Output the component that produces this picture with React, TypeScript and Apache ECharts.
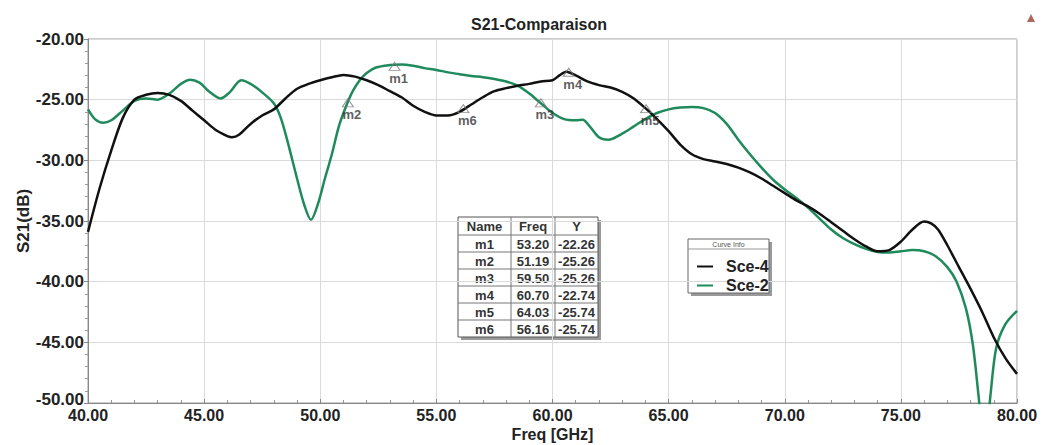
import React, { useEffect, useRef } from "react";
import * as echarts from "echarts";

const sce4Freq = [40.0, 40.5, 41.0, 41.5, 42.0, 42.5, 43.0, 43.5, 44.0, 44.5, 45.0, 45.5, 46.0, 46.2, 46.5, 47.0, 47.5, 48.0, 48.5, 49.0, 49.5, 50.0, 50.5, 51.0, 51.5, 52.0, 52.5, 53.0, 53.5, 54.0, 54.5, 55.0, 55.5, 56.0, 56.5, 57.0, 57.5, 58.0, 58.5, 59.0, 59.5, 60.0, 60.3, 60.6, 61.0, 61.5, 62.0, 62.5, 63.0, 63.5, 64.0, 64.5, 65.0, 65.5, 66.0, 66.5, 67.0, 67.5, 68.0, 68.5, 69.0, 69.5, 70.0, 70.5, 71.0, 71.5, 72.0, 72.5, 73.0, 73.5, 74.0, 74.5, 75.0, 75.5, 76.0, 76.3, 76.6, 77.0, 77.5, 78.0, 78.5, 79.0, 79.5, 80.0];
const sce4Db = [-35.9, -32.3, -29.2, -26.5, -25.0, -24.6, -24.45, -24.6, -25.1, -25.9, -26.7, -27.5, -28.0, -28.1, -27.9, -27.0, -26.3, -25.8, -24.9, -24.1, -23.7, -23.4, -23.15, -22.96, -23.1, -23.4, -23.8, -24.3, -24.8, -25.5, -26.0, -26.3, -26.3, -26.0, -25.4, -24.8, -24.3, -24.05, -23.85, -23.7, -23.5, -23.4, -23.0, -22.7, -23.0, -23.5, -23.8, -24.0, -24.35, -24.9, -25.7, -26.6, -27.6, -28.7, -29.5, -29.9, -30.1, -30.3, -30.6, -31.0, -31.5, -32.1, -32.7, -33.3, -33.8, -34.4, -35.1, -35.8, -36.5, -37.1, -37.5, -37.4, -36.7, -35.7, -35.05, -35.2, -35.7, -37.0, -38.8, -40.6, -42.5, -44.6, -46.3, -47.6];

const sce2Freq = [40.0, 40.3, 40.65, 41.0, 41.5, 42.0, 42.5, 43.0, 43.5, 44.0, 44.4, 44.8, 45.2, 45.7, 46.1, 46.6, 47.0, 47.5, 48.0, 48.3, 48.6, 49.0, 49.3, 49.6, 49.9, 50.2, 50.5, 50.8, 51.1, 51.4, 51.7, 52.0, 52.4, 53.0, 53.5, 54.0, 54.5, 55.0, 55.5, 56.0, 56.5, 57.0, 57.5, 58.0, 58.5, 59.0, 59.5, 60.0, 60.5, 61.0, 61.3, 61.6, 62.0, 62.4, 63.0, 63.5, 64.0, 64.5, 65.0, 65.5, 66.0, 66.5, 67.0, 67.5, 68.0, 68.5, 69.0, 69.5, 70.0, 70.5, 71.0, 71.5, 72.0, 72.5, 73.0, 73.5, 74.0, 74.5, 75.0, 75.5, 76.0, 76.5, 77.0, 77.4, 77.8, 78.1, 78.35, 78.55, 78.65, 78.85, 79.1, 79.5, 80.0];
const sce2Db = [-25.8, -26.6, -26.9, -26.7, -25.9, -25.1, -24.9, -25.0, -24.5, -23.7, -23.35, -23.6, -24.3, -24.9, -24.4, -23.4, -23.7, -24.4, -25.3, -26.5, -28.5, -31.5, -33.6, -34.9, -33.6, -31.5, -29.5, -27.2, -25.6, -24.3, -23.4, -22.8, -22.35, -22.15, -22.1, -22.2, -22.4, -22.55, -22.75, -22.9, -23.05, -23.15, -23.3, -23.5, -23.85, -24.5, -25.3, -26.1, -26.6, -26.7, -26.65, -27.2, -28.1, -28.3, -27.8, -27.2, -26.6, -26.1, -25.8, -25.65, -25.6, -25.7, -26.1, -27.0, -28.3, -29.5, -30.6, -31.6, -32.4, -33.1, -33.9, -34.8, -35.7, -36.4, -36.9, -37.3, -37.55, -37.6, -37.5, -37.4, -37.5, -37.9, -38.8, -40.0, -42.2, -45.2, -49.5, -53.0, -53.0, -49.5, -45.5, -43.5, -42.4];

const markerNames = ["m1", "m2", "m3", "m4", "m5", "m6"];
const markerFreq = [53.2, 51.19, 59.5, 60.7, 64.03, 56.16];
const markerDb = [-22.26, -25.26, -25.26, -22.74, -25.74, -25.74];

const seriesNames = ["Sce-4", "Sce-2"];
const seriesColors = ["#111111", "#1f8a5b"];
const tableHeader = ["Name", "Freq", "Y"];

const FONT = "'Liberation Sans', Arial, sans-serif";
const Y_MIN = -50;

function buildTable() {
  const left = 458, top = 217, right = 598;
  const colX = [458, 511, 555, 598];
  const headerH = 18, rowH = 17;
  const bottom = top + headerH + rowH * markerNames.length;
  const els: any[] = [];
  els.push({ type: "rect", shape: { x: left + 3, y: top + 3, width: right - left, height: bottom - top }, style: { fill: "#9a9a9a" }, silent: true });
  els.push({ type: "rect", shape: { x: left, y: top, width: right - left, height: bottom - top }, style: { fill: "#ffffff", stroke: "#555", lineWidth: 1 } });
  for (let i = 1; i < colX.length - 1; i++) {
    els.push({ type: "line", shape: { x1: colX[i], y1: top, x2: colX[i], y2: bottom }, style: { stroke: "#777", lineWidth: 1 } });
  }
  for (let r = 0; r < markerNames.length; r++) {
    const y = top + headerH + r * rowH;
    els.push({ type: "line", shape: { x1: left, y1: y, x2: right, y2: y }, style: { stroke: "#777", lineWidth: 1 } });
  }
  const cell = (txt: string, c: number, yc: number) => ({
    type: "text",
    style: { text: txt, x: (colX[c] + colX[c + 1]) / 2, y: yc, align: "center", verticalAlign: "middle", font: `bold 13px ${FONT}`, fill: "#333" },
  });
  tableHeader.forEach((h, c) => els.push(cell(h, c, top + headerH / 2 + 0.5)));
  markerNames.forEach((n, r) => {
    const yc = top + headerH + r * rowH + rowH / 2 + 0.5;
    els.push(cell(n, 0, yc));
    els.push(cell(markerFreq[r].toFixed(2), 1, yc));
    els.push(cell(markerDb[r].toFixed(2), 2, yc));
  });
  return els;
}

function buildLegendBox() {
  const x = 688, y = 239, w = 81, h = 54;
  return [
    { type: "rect", shape: { x: x + 3, y: y + 3, width: w, height: h }, style: { fill: "#9a9a9a" }, silent: true },
    { type: "rect", shape: { x, y, width: w, height: h }, style: { fill: "#ffffff", stroke: "#666", lineWidth: 1 } },
    { type: "line", shape: { x1: x, y1: y + 10, x2: x + w, y2: y + 10 }, style: { stroke: "#999", lineWidth: 1 } },
    { type: "text", style: { text: "Curve Info", x: x + w / 2, y: y + 5, align: "center", verticalAlign: "middle", font: `7px ${FONT}`, fill: "#555" } },
  ];
}

export default function App() {
  const ref = useRef<HTMLDivElement>(null);
  useEffect(() => {
    if (!ref.current) return;
    const chart = echarts.init(ref.current, undefined, { renderer: "svg" });
    const toPairs = (xs: number[], ys: number[]) => xs.map((x, i) => [x, ys[i]]);
    const axisLabelStyle = { fontFamily: FONT, fontWeight: "bold" as const, fontSize: 17, color: "#222" };
    const xLabelStyle = { ...axisLabelStyle, fontSize: 16 };
    chart.setOption({
      animation: false,
      backgroundColor: "#ffffff",
      title: {
        text: "S21-Comparaison",
        left: 466,
        top: 11,
        textStyle: { fontFamily: FONT, fontWeight: "bold", fontSize: 16, color: "#222" },
      },
      grid: { left: 88, right: 24, top: 39, bottom: 42, show: true, borderColor: "#999", borderWidth: 1, outerBoundsMode: "none", containLabel: false },
      legend: {
        data: seriesNames,
        orient: "vertical",
        left: 692,
        top: 253,
        itemWidth: 16,
        itemHeight: 2,
        itemGap: 2,
        icon: "rect",
        textStyle: { fontFamily: FONT, fontWeight: "bold", fontSize: 16, color: "#222", lineHeight: 17, padding: [0, 0, 0, 8] },
        z: 10,
      },
      xAxis: {
        type: "value",
        min: 40,
        max: 80,
        interval: 5,
        name: "Freq [GHz]",
        nameLocation: "middle",
        nameGap: 23,
        nameMoveOverlap: false,
        nameTextStyle: { ...xLabelStyle, lineHeight: 17 },
        axisLine: { lineStyle: { color: "#888" } },
        axisTick: { show: true, inside: true, length: 4, lineStyle: { color: "#888" } },
        minorTick: { show: true, splitNumber: 5, length: 3, lineStyle: { color: "#999" } },
        splitLine: { show: true, lineStyle: { color: "#dadada" } },
        axisLabel: { ...xLabelStyle, lineHeight: 14, margin: 5, formatter: (v: number) => v.toFixed(2) },
      },
      yAxis: {
        type: "value",
        min: Y_MIN,
        max: -20,
        interval: 5,
        name: "S21(dB)",
        nameLocation: "middle",
        nameGap: 56,
        nameMoveOverlap: false,
        nameTextStyle: { ...axisLabelStyle },
        axisLine: { show: true, lineStyle: { color: "#888" } },
        axisTick: { show: true, length: 4, lineStyle: { color: "#888" } },
        minorTick: { show: true, splitNumber: 5, length: 3, lineStyle: { color: "#999" } },
        splitLine: { show: true, lineStyle: { color: "#dadada" } },
        axisLabel: {
          ...axisLabelStyle,
          lineHeight: 12,
          margin: 4,
          formatter: (v: number) => (v === Y_MIN ? `{low|${v.toFixed(2)}}` : v.toFixed(2)),
          rich: { low: { ...axisLabelStyle, padding: [0, 0, 7, 0] } },
        },
      },
      series: [
        {
          name: seriesNames[0],
          type: "line",
          data: toPairs(sce4Freq, sce4Db),
          smooth: 0.3,
          showSymbol: false,
          clip: true,
          color: seriesColors[0],
          lineStyle: { width: 2.5, color: seriesColors[0] },
          z: 3,
        },
        {
          name: seriesNames[1],
          type: "line",
          data: toPairs(sce2Freq, sce2Db),
          smooth: 0.3,
          showSymbol: false,
          clip: true,
          color: seriesColors[1],
          lineStyle: { width: 2.5, color: seriesColors[1] },
          z: 2,
        },
        {
          name: "Markers",
          type: "scatter",
          data: markerNames.map((n, i) => ({ name: n, value: [markerFreq[i], markerDb[i]] })),
          symbol: "triangle",
          symbolSize: [11, 8],
          itemStyle: { color: "rgba(255,255,255,0)", borderColor: "#777", borderWidth: 1 },
          label: {
            show: true,
            formatter: "{b}",
            position: "bottom",
            distance: 1,
            offset: [4, 0],
            fontFamily: FONT,
            fontWeight: "bold",
            fontSize: 13,
            color: "#333",
          },
          z: 5,
        },
      ],
      graphic: [
        ...buildTable(),
        ...buildLegendBox(),
        { type: "polygon", shape: { points: [[1027, 22], [1035, 22], [1031, 14]] }, style: { fill: "#b0665c" } },
      ],
    });
    return () => chart.dispose();
  }, []);
  return <div ref={ref} style={{ position: "fixed", left: 0, top: 0, width: 1041, height: 445 }} />;
}
